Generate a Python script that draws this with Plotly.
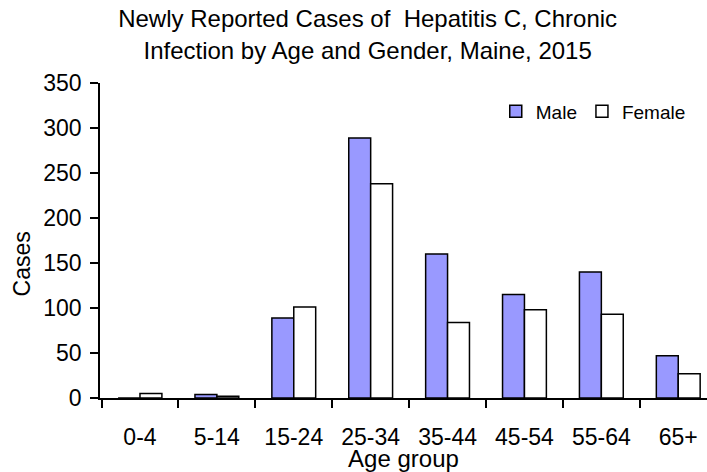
import plotly.graph_objects as go

categories = ["0-4", "5-14", "15-24", "25-34", "35-44", "45-54", "55-64", "65+"]
male = [0, 4, 89, 289, 160, 115, 140, 47]
female = [5, 2, 101, 238, 84, 98, 93, 27]
y_ticks = [0, 50, 100, 150, 200, 250, 300, 350]

FONT = "Liberation Sans, Arial, sans-serif"

fig = go.Figure()
fig.add_trace(go.Bar(x=categories, y=male, name="Male",
                     marker=dict(color="#9999FF", line=dict(color="black", width=1.5))))
fig.add_trace(go.Bar(x=categories, y=female, name="Female",
                     marker=dict(color="white", line=dict(color="black", width=1.5))))

fig.update_layout(
    width=707, height=472,
    margin=dict(l=100, r=0, t=83, b=74, autoexpand=False),
    paper_bgcolor="white", plot_bgcolor="white",
    font=dict(family=FONT, size=23, color="black"),
    barmode="group", bargap=0.43, bargroupgap=0,
    title=dict(text="Newly Reported Cases of  Hepatitis C, Chronic<br>Infection by Age and Gender, Maine, 2015",
               x=0.52, xanchor="center", y=0.942, yanchor="middle",
               font=dict(size=24, family=FONT)),
    legend=dict(orientation="h", x=0.652, y=0.91, xanchor="left", yanchor="middle",
                font=dict(size=19), tracegroupgap=0,
                bgcolor="rgba(0,0,0,0)"),
    showlegend=True,
    annotations=[dict(text="Cases", xref="paper", yref="paper", x=-0.128, y=0.425,
                      xanchor="center", yanchor="middle", textangle=-90,
                      showarrow=False, font=dict(size=23, family=FONT))],
)
fig.update_xaxes(
    type="category", range=[-0.52, 7.374],
    showline=True, linecolor="black", linewidth=1.5,
    ticks="outside", ticklen=8, tickwidth=1.5, tickcolor="black",
    tickson="boundaries", ticklabelstandoff=18,
    tickfont=dict(size=23),
    title=dict(text="Age group", standoff=0, font=dict(size=24)),
    showgrid=False, zeroline=False, automargin=False,
)
fig.update_yaxes(
    range=[0, 350], tickvals=y_ticks,
    showline=True, linecolor="black", linewidth=1.5,
    ticks="outside", ticklen=8, tickwidth=1.5, tickcolor="black",
    tickfont=dict(size=23), ticklabelstandoff=4,
    showgrid=False, zeroline=False, automargin=False,
)

fig.write_html("out.html", config={"displayModeBar": False},
               post_script="document.body.style.margin='0';")
